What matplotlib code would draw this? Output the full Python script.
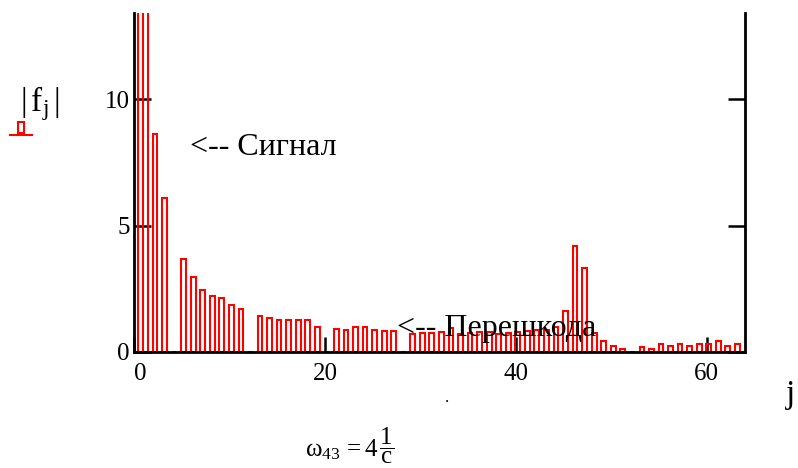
import numpy as np
import matplotlib
matplotlib.use("Agg")
import matplotlib.pyplot as plt
from matplotlib.patches import Rectangle
from matplotlib.lines import Line2D

plt.rcParams['font.family'] = ['Liberation Serif', 'DejaVu Serif']
plt.rcParams['mathtext.fontset'] = 'custom'
plt.rcParams['mathtext.rm'] = 'Liberation Serif'
plt.rcParams['mathtext.it'] = 'Liberation Serif:italic'

# ---- data ----
j = np.arange(64)
f_abs = [15.0, 14.5, 8.6, 6.1, 0.0, 3.66, 2.98, 2.46, 2.2, 2.12,
         1.86, 1.69, 0.0, 1.44, 1.34, 1.26, 1.26, 1.26, 1.26, 1.0,
         0.0, 0.91, 0.87, 1.0, 1.0, 0.86, 0.84, 0.84, 0.0, 0.72,
         0.75, 0.75, 0.78, 0.95, 0.72, 0.75, 0.78, 0.78, 0.72, 0.75,
         0.78, 0.82, 0.85, 0.88, 1.0, 1.62, 4.2, 3.33, 0.74, 0.45,
         0.22, 0.12, 0.0, 0.2, 0.12, 0.3, 0.25, 0.3, 0.25, 0.3,
         0.3, 0.45, 0.25, 0.3]
xticks = [0, 20, 40, 60]
yticks = [0, 5, 10]
label_signal = "<-- Сигнал"
label_noise = "<-- Перешкода"

W, H = 798, 468
fig = plt.figure(figsize=(W / 100, H / 100), dpi=100)
ax = fig.add_axes([134 / W, 1 - 352 / H, (745 - 134) / W, (352 - 13) / H])

bar_offset = 0.2
ax.bar(j + bar_offset, f_abs, width=0.5, facecolor='none', edgecolor='#ff0000',
       linewidth=1.5, zorder=3)

ax.set_xlim(0, 64)
ax.set_ylim(0, 13.4)
ax.set_xticks(xticks)
ax.set_yticks(yticks)
ax.set_xticklabels([str(v) for v in xticks])
ax.set_yticklabels([str(v) for v in yticks])

for s in ['left', 'right', 'bottom']:
    ax.spines[s].set_linewidth(2.0)
    ax.spines[s].set_zorder(5)
ax.spines['top'].set_visible(False)

ax.tick_params(axis='y', direction='in', length=12, width=1.8, left=True, right=True,
               labelsize=18, pad=3)
ax.tick_params(axis='x', direction='in', length=11, width=1.8, labelsize=18, pad=8)
ax.get_xticklabels()[0].set_horizontalalignment('left')

ax.text(5.9, 7.8, label_signal, fontsize=23, va='baseline', ha='left', zorder=6)
ax.text(27.5, 0.63, label_noise, fontsize=23, va='baseline', ha='left', zorder=6)

# y label with trace glyph
fig.text(40 / W, 1 - 104 / H, r'$|\,\mathrm{f}_{\mathrm{j}}\,|$', fontsize=24,
         ha='center', va='center')
fig.add_artist(Line2D([10 / W, 32 / W], [1 - 134.5 / H, 1 - 134.5 / H],
                      color='#ff0000', lw=1.5, transform=fig.transFigure))
fig.add_artist(Rectangle((18 / W, 1 - 133 / H), 6 / W, 11 / H, facecolor='none',
                         edgecolor='#ff0000', lw=1.5, transform=fig.transFigure))

fig.text(791 / W, 1 - 395 / H, 'j', fontsize=24, ha='center', va='center')
fig.text(447 / W, 1 - 398 / H, '.', fontsize=12, ha='center', va='center')
fig.text(350 / W, 1 - 446 / H, r'$\mathrm{ω}_{43}\,=4\,\dfrac{1}{\mathrm{c}}$', fontsize=18,
         ha='center', va='center')

fig.savefig('out.png', dpi=100)
